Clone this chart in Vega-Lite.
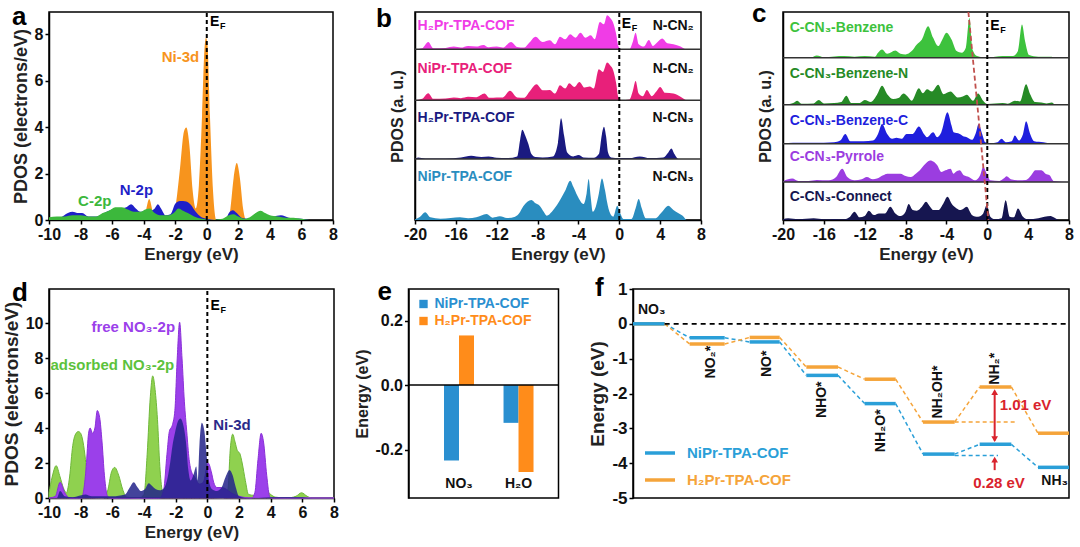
{
"$schema": "https://vega.github.io/schema/vega-lite/v6.json",
"background": "white",
"padding": {"left": 1, "top": 0, "right": 5, "bottom": 0},
"config": {
  "font": "Liberation Sans",
  "view": {"stroke": "#000", "strokeWidth": 1.5},
  "axis": {"labelFont": "Liberation Sans", "labelFontSize": 16, "labelFontWeight": "bold", "labelColor": "#111", "titleFont": "Liberation Sans", "titleFontSize": 17, "titleFontWeight": "bold", "titleColor": "#222", "domainColor": "#000", "domainWidth": 1.5, "tickColor": "#000", "tickWidth": 1.5, "tickSize": 4, "grid": false, "labelPadding": 2, "titlePadding": 4, "labelFlush": false, "labelOverlap": false},
  "title": {"font": "Liberation Sans", "fontSize": 26, "fontWeight": "bold", "anchor": "start", "frame": "group", "baseline": "alphabetic", "color": "#000"},
  "text": {"font": "Liberation Sans", "fontWeight": "bold", "fontSize": 14}
},
"datasets": {
  "aNi": [{"e":-10,"v":0},{"e":-4.2,"v":0},{"e":-3.9,"v":0.3},{"e":-3.65,"v":0.9},{"e":-3.4,"v":0.3},{"e":-3.1,"v":0},{"e":-2.2,"v":0},{"e":-2.0,"v":0.5},{"e":-1.7,"v":2.2},{"e":-1.45,"v":3.8},{"e":-1.3,"v":3.98},{"e":-1.1,"v":3.2},{"e":-0.9,"v":1.3},{"e":-0.7,"v":0.5},{"e":-0.5,"v":1.5},{"e":-0.3,"v":4.5},{"e":-0.15,"v":7.3},{"e":-0.05,"v":7.84},{"e":0.05,"v":7.5},{"e":0.2,"v":4.5},{"e":0.4,"v":1.2},{"e":0.6,"v":0},{"e":1.3,"v":0},{"e":1.5,"v":0.5},{"e":1.7,"v":1.8},{"e":1.9,"v":2.45},{"e":2.1,"v":1.8},{"e":2.3,"v":0.5},{"e":2.5,"v":0},{"e":8,"v":0}],
  "aN": [{"e":-10,"v":0.05},{"e":-9.3,"v":0.1},{"e":-8.8,"v":0.3},{"e":-8.5,"v":0.35},{"e":-8.2,"v":0.3},{"e":-7.9,"v":0.3},{"e":-7.5,"v":0.15},{"e":-7,"v":0.15},{"e":-6.5,"v":0.3},{"e":-6,"v":0.45},{"e":-5.5,"v":0.5},{"e":-5.1,"v":0.55},{"e":-4.8,"v":0.68},{"e":-4.5,"v":0.5},{"e":-4.2,"v":0.35},{"e":-3.9,"v":0.4},{"e":-3.6,"v":0.4},{"e":-3.3,"v":0.5},{"e":-3.1,"v":0.68},{"e":-2.9,"v":0.5},{"e":-2.6,"v":0.2},{"e":-2.3,"v":0.25},{"e":-2.0,"v":0.7},{"e":-1.7,"v":0.82},{"e":-1.3,"v":0.8},{"e":-1.0,"v":0.65},{"e":-0.7,"v":0.35},{"e":-0.4,"v":0.15},{"e":0,"v":0.05},{"e":0.5,"v":0},{"e":1.2,"v":0.05},{"e":1.4,"v":0.3},{"e":1.65,"v":0.42},{"e":1.9,"v":0.3},{"e":2.2,"v":0.1},{"e":2.6,"v":0.05},{"e":3.0,"v":0.15},{"e":3.4,"v":0.35},{"e":3.8,"v":0.2},{"e":4.2,"v":0.15},{"e":4.7,"v":0.2},{"e":5.2,"v":0.1},{"e":6,"v":0.05},{"e":6.5,"v":0},{"e":8,"v":0}],
  "aC": [{"e":-10,"v":0.12},{"e":-9.5,"v":0.15},{"e":-9,"v":0.15},{"e":-8.5,"v":0.2},{"e":-8,"v":0.2},{"e":-7.5,"v":0.15},{"e":-7,"v":0.15},{"e":-6.6,"v":0.3},{"e":-6.2,"v":0.4},{"e":-5.8,"v":0.55},{"e":-5.4,"v":0.55},{"e":-5.0,"v":0.45},{"e":-4.6,"v":0.35},{"e":-4.2,"v":0.35},{"e":-3.9,"v":0.45},{"e":-3.6,"v":0.5},{"e":-3.3,"v":0.3},{"e":-2.9,"v":0.2},{"e":-2.5,"v":0.2},{"e":-2.1,"v":0.3},{"e":-1.8,"v":0.5},{"e":-1.5,"v":0.4},{"e":-1.2,"v":0.3},{"e":-0.8,"v":0.15},{"e":-0.3,"v":0.05},{"e":0.3,"v":0},{"e":1.0,"v":0.05},{"e":1.4,"v":0.2},{"e":1.7,"v":0.25},{"e":2.0,"v":0.15},{"e":2.4,"v":0.05},{"e":2.8,"v":0.15},{"e":3.1,"v":0.3},{"e":3.4,"v":0.4},{"e":3.7,"v":0.3},{"e":4.0,"v":0.2},{"e":4.5,"v":0.15},{"e":5.0,"v":0.1},{"e":5.5,"v":0.1},{"e":6.0,"v":0.05},{"e":6.5,"v":0},{"e":8,"v":0}],
  "bS": [
{"k":"s1","b":5.13,"e":-20,"v":5.13},{"k":"s1","b":5.13,"e":-19.3,"v":5.16},{"k":"s1","b":5.13,"e":-18.7,"v":5.35},{"k":"s1","b":5.13,"e":-18.2,"v":5.16},{"k":"s1","b":5.13,"e":-17,"v":5.17},{"k":"s1","b":5.13,"e":-16.2,"v":5.21},{"k":"s1","b":5.13,"e":-15.5,"v":5.18},{"k":"s1","b":5.13,"e":-14.8,"v":5.23},{"k":"s1","b":5.13,"e":-14,"v":5.21},{"k":"s1","b":5.13,"e":-13.3,"v":5.26},{"k":"s1","b":5.13,"e":-12.8,"v":5.19},{"k":"s1","b":5.13,"e":-12,"v":5.21},{"k":"s1","b":5.13,"e":-11.4,"v":5.18},{"k":"s1","b":5.13,"e":-10.6,"v":5.35},{"k":"s1","b":5.13,"e":-10,"v":5.2},{"k":"s1","b":5.13,"e":-9.3,"v":5.18},{"k":"s1","b":5.13,"e":-8.8,"v":5.33},{"k":"s1","b":5.13,"e":-8.2,"v":5.51},{"k":"s1","b":5.13,"e":-7.5,"v":5.35},{"k":"s1","b":5.13,"e":-6.8,"v":5.4},{"k":"s1","b":5.13,"e":-6.3,"v":5.28},{"k":"s1","b":5.13,"e":-5.8,"v":5.51},{"k":"s1","b":5.13,"e":-5.3,"v":5.43},{"k":"s1","b":5.13,"e":-4.8,"v":5.58},{"k":"s1","b":5.13,"e":-4.3,"v":5.48},{"k":"s1","b":5.13,"e":-3.8,"v":5.63},{"k":"s1","b":5.13,"e":-3.3,"v":5.48},{"k":"s1","b":5.13,"e":-2.8,"v":5.55},{"k":"s1","b":5.13,"e":-2.4,"v":5.43},{"k":"s1","b":5.13,"e":-1.9,"v":5.95},{"k":"s1","b":5.13,"e":-1.5,"v":5.88},{"k":"s1","b":5.13,"e":-1.2,"v":6.15},{"k":"s1","b":5.13,"e":-0.9,"v":6.08},{"k":"s1","b":5.13,"e":-0.6,"v":5.93},{"k":"s1","b":5.13,"e":-0.3,"v":5.58},{"k":"s1","b":5.13,"e":-0.1,"v":5.23},{"k":"s1","b":5.13,"e":0.2,"v":5.13},{"k":"s1","b":5.13,"e":1.0,"v":5.13},{"k":"s1","b":5.13,"e":1.3,"v":5.33},{"k":"s1","b":5.13,"e":1.6,"v":5.63},{"k":"s1","b":5.13,"e":1.9,"v":5.28},{"k":"s1","b":5.13,"e":2.4,"v":5.21},{"k":"s1","b":5.13,"e":2.9,"v":5.41},{"k":"s1","b":5.13,"e":3.3,"v":5.23},{"k":"s1","b":5.13,"e":3.7,"v":5.33},{"k":"s1","b":5.13,"e":4.2,"v":5.45},{"k":"s1","b":5.13,"e":4.7,"v":5.31},{"k":"s1","b":5.13,"e":5.3,"v":5.28},{"k":"s1","b":5.13,"e":6.0,"v":5.21},{"k":"s1","b":5.13,"e":6.5,"v":5.13},{"k":"s1","b":5.13,"e":8,"v":5.13},
{"k":"s2","b":3.6,"e":-20,"v":3.6},{"k":"s2","b":3.6,"e":-19.3,"v":3.64},{"k":"s2","b":3.6,"e":-18.7,"v":3.81},{"k":"s2","b":3.6,"e":-18.2,"v":3.64},{"k":"s2","b":3.6,"e":-17,"v":3.65},{"k":"s2","b":3.6,"e":-16.2,"v":3.68},{"k":"s2","b":3.6,"e":-15.5,"v":3.66},{"k":"s2","b":3.6,"e":-14.8,"v":3.7},{"k":"s2","b":3.6,"e":-14,"v":3.69},{"k":"s2","b":3.6,"e":-13.2,"v":3.8},{"k":"s2","b":3.6,"e":-12.7,"v":3.67},{"k":"s2","b":3.6,"e":-12,"v":3.68},{"k":"s2","b":3.6,"e":-11.4,"v":3.68},{"k":"s2","b":3.6,"e":-10.7,"v":3.88},{"k":"s2","b":3.6,"e":-10,"v":3.68},{"k":"s2","b":3.6,"e":-9.3,"v":3.67},{"k":"s2","b":3.6,"e":-8.8,"v":3.85},{"k":"s2","b":3.6,"e":-8.1,"v":4.08},{"k":"s2","b":3.6,"e":-7.5,"v":3.9},{"k":"s2","b":3.6,"e":-6.8,"v":3.91},{"k":"s2","b":3.6,"e":-6.3,"v":3.8},{"k":"s2","b":3.6,"e":-5.8,"v":4.05},{"k":"s2","b":3.6,"e":-5.3,"v":3.95},{"k":"s2","b":3.6,"e":-4.9,"v":4.11},{"k":"s2","b":3.6,"e":-4.4,"v":4.0},{"k":"s2","b":3.6,"e":-3.9,"v":4.15},{"k":"s2","b":3.6,"e":-3.4,"v":3.98},{"k":"s2","b":3.6,"e":-2.9,"v":4.01},{"k":"s2","b":3.6,"e":-2.5,"v":3.95},{"k":"s2","b":3.6,"e":-2.0,"v":4.53},{"k":"s2","b":3.6,"e":-1.6,"v":4.45},{"k":"s2","b":3.6,"e":-1.2,"v":4.73},{"k":"s2","b":3.6,"e":-0.9,"v":4.65},{"k":"s2","b":3.6,"e":-0.6,"v":4.5},{"k":"s2","b":3.6,"e":-0.3,"v":4.1},{"k":"s2","b":3.6,"e":-0.1,"v":3.7},{"k":"s2","b":3.6,"e":0.2,"v":3.6},{"k":"s2","b":3.6,"e":1.0,"v":3.62},{"k":"s2","b":3.6,"e":1.3,"v":3.85},{"k":"s2","b":3.6,"e":1.6,"v":4.18},{"k":"s2","b":3.6,"e":1.9,"v":3.8},{"k":"s2","b":3.6,"e":2.3,"v":3.72},{"k":"s2","b":3.6,"e":2.7,"v":3.91},{"k":"s2","b":3.6,"e":3.2,"v":3.72},{"k":"s2","b":3.6,"e":3.6,"v":3.85},{"k":"s2","b":3.6,"e":4.0,"v":4.0},{"k":"s2","b":3.6,"e":4.5,"v":3.82},{"k":"s2","b":3.6,"e":5.3,"v":3.8},{"k":"s2","b":3.6,"e":6.0,"v":3.7},{"k":"s2","b":3.6,"e":6.6,"v":3.6},{"k":"s2","b":3.6,"e":8,"v":3.6},
{"k":"s3","b":1.83,"e":-20,"v":1.83},{"k":"s3","b":1.83,"e":-19.7,"v":1.88},{"k":"s3","b":1.83,"e":-19,"v":1.85},{"k":"s3","b":1.83,"e":-17,"v":1.85},{"k":"s3","b":1.83,"e":-15.5,"v":1.88},{"k":"s3","b":1.83,"e":-14.5,"v":1.93},{"k":"s3","b":1.83,"e":-13.5,"v":1.89},{"k":"s3","b":1.83,"e":-12.8,"v":1.91},{"k":"s3","b":1.83,"e":-12,"v":1.87},{"k":"s3","b":1.83,"e":-11,"v":1.86},{"k":"s3","b":1.83,"e":-10,"v":1.91},{"k":"s3","b":1.83,"e":-9.7,"v":2.43},{"k":"s3","b":1.83,"e":-9.5,"v":2.71},{"k":"s3","b":1.83,"e":-9.2,"v":2.53},{"k":"s3","b":1.83,"e":-8.9,"v":2.28},{"k":"s3","b":1.83,"e":-8.6,"v":1.98},{"k":"s3","b":1.83,"e":-8.2,"v":1.89},{"k":"s3","b":1.83,"e":-7.5,"v":1.88},{"k":"s3","b":1.83,"e":-6.5,"v":1.91},{"k":"s3","b":1.83,"e":-6.0,"v":2.33},{"k":"s3","b":1.83,"e":-5.7,"v":3.06},{"k":"s3","b":1.83,"e":-5.4,"v":2.53},{"k":"s3","b":1.83,"e":-5.1,"v":2.03},{"k":"s3","b":1.83,"e":-4.5,"v":1.91},{"k":"s3","b":1.83,"e":-4.0,"v":1.95},{"k":"s3","b":1.83,"e":-3.5,"v":1.88},{"k":"s3","b":1.83,"e":-2.5,"v":1.87},{"k":"s3","b":1.83,"e":-2.0,"v":1.98},{"k":"s3","b":1.83,"e":-1.7,"v":2.58},{"k":"s3","b":1.83,"e":-1.5,"v":2.8},{"k":"s3","b":1.83,"e":-1.3,"v":2.53},{"k":"s3","b":1.83,"e":-1.1,"v":2.03},{"k":"s3","b":1.83,"e":-0.8,"v":1.88},{"k":"s3","b":1.83,"e":0,"v":1.86},{"k":"s3","b":1.83,"e":1,"v":1.86},{"k":"s3","b":1.83,"e":2,"v":1.91},{"k":"s3","b":1.83,"e":3,"v":1.86},{"k":"s3","b":1.83,"e":4.3,"v":1.88},{"k":"s3","b":1.83,"e":4.8,"v":2.03},{"k":"s3","b":1.83,"e":5.1,"v":2.15},{"k":"s3","b":1.83,"e":5.4,"v":1.98},{"k":"s3","b":1.83,"e":5.8,"v":1.83},{"k":"s3","b":1.83,"e":8,"v":1.83},
{"k":"s4","b":0,"e":-20,"v":0.02},{"k":"s4","b":0,"e":-19.5,"v":0.1},{"k":"s4","b":0,"e":-19,"v":0.23},{"k":"s4","b":0,"e":-18.5,"v":0.08},{"k":"s4","b":0,"e":-17.5,"v":0.04},{"k":"s4","b":0,"e":-16.5,"v":0.06},{"k":"s4","b":0,"e":-15.6,"v":0.08},{"k":"s4","b":0,"e":-14.8,"v":0.05},{"k":"s4","b":0,"e":-14,"v":0.08},{"k":"s4","b":0,"e":-13,"v":0.18},{"k":"s4","b":0,"e":-12.4,"v":0.07},{"k":"s4","b":0,"e":-11.7,"v":0.11},{"k":"s4","b":0,"e":-11,"v":0.06},{"k":"s4","b":0,"e":-10.2,"v":0.1},{"k":"s4","b":0,"e":-9.8,"v":0.2},{"k":"s4","b":0,"e":-9.4,"v":0.41},{"k":"s4","b":0,"e":-8.6,"v":0.6},{"k":"s4","b":0,"e":-8.2,"v":0.5},{"k":"s4","b":0,"e":-7.8,"v":0.43},{"k":"s4","b":0,"e":-7.4,"v":0.25},{"k":"s4","b":0,"e":-7.1,"v":0.13},{"k":"s4","b":0,"e":-6.6,"v":0.25},{"k":"s4","b":0,"e":-6.1,"v":0.45},{"k":"s4","b":0,"e":-5.3,"v":0.88},{"k":"s4","b":0,"e":-4.8,"v":1.18},{"k":"s4","b":0,"e":-4.5,"v":1.0},{"k":"s4","b":0,"e":-4.1,"v":0.73},{"k":"s4","b":0,"e":-3.5,"v":0.48},{"k":"s4","b":0,"e":-3.2,"v":0.8},{"k":"s4","b":0,"e":-3.0,"v":1.23},{"k":"s4","b":0,"e":-2.8,"v":0.7},{"k":"s4","b":0,"e":-2.6,"v":0.25},{"k":"s4","b":0,"e":-2.3,"v":0.4},{"k":"s4","b":0,"e":-2.0,"v":0.8},{"k":"s4","b":0,"e":-1.7,"v":1.25},{"k":"s4","b":0,"e":-1.4,"v":0.9},{"k":"s4","b":0,"e":-1.2,"v":0.55},{"k":"s4","b":0,"e":-0.9,"v":0.2},{"k":"s4","b":0,"e":-0.6,"v":0.1},{"k":"s4","b":0,"e":-0.2,"v":0.43},{"k":"s4","b":0,"e":0.1,"v":0.2},{"k":"s4","b":0,"e":0.4,"v":0.03},{"k":"s4","b":0,"e":1.2,"v":0.03},{"k":"s4","b":0,"e":1.6,"v":0.35},{"k":"s4","b":0,"e":1.9,"v":0.63},{"k":"s4","b":0,"e":2.2,"v":0.35},{"k":"s4","b":0,"e":2.6,"v":0.05},{"k":"s4","b":0,"e":3.5,"v":0.05},{"k":"s4","b":0,"e":4.2,"v":0.25},{"k":"s4","b":0,"e":4.8,"v":0.43},{"k":"s4","b":0,"e":5.3,"v":0.3},{"k":"s4","b":0,"e":5.8,"v":0.2},{"k":"s4","b":0,"e":6.3,"v":0.1},{"k":"s4","b":0,"e":6.6,"v":0},{"k":"s4","b":0,"e":8,"v":0}],
  "cS": [
{"k":"c1","b":4.9,"e":-20,"v":4.9},{"k":"c1","b":4.9,"e":-19,"v":4.92},{"k":"c1","b":4.9,"e":-17.2,"v":4.92},{"k":"c1","b":4.9,"e":-16.7,"v":4.97},{"k":"c1","b":4.9,"e":-16,"v":4.92},{"k":"c1","b":4.9,"e":-15,"v":4.94},{"k":"c1","b":4.9,"e":-14,"v":4.95},{"k":"c1","b":4.9,"e":-13,"v":4.93},{"k":"c1","b":4.9,"e":-12,"v":4.95},{"k":"c1","b":4.9,"e":-11,"v":4.93},{"k":"c1","b":4.9,"e":-10.7,"v":5.05},{"k":"c1","b":4.9,"e":-10.3,"v":5.15},{"k":"c1","b":4.9,"e":-9.8,"v":5.02},{"k":"c1","b":4.9,"e":-9.0,"v":5.12},{"k":"c1","b":4.9,"e":-8.5,"v":5.02},{"k":"c1","b":4.9,"e":-8.0,"v":5.0},{"k":"c1","b":4.9,"e":-7.4,"v":5.1},{"k":"c1","b":4.9,"e":-6.9,"v":5.3},{"k":"c1","b":4.9,"e":-6.4,"v":5.45},{"k":"c1","b":4.9,"e":-5.8,"v":5.85},{"k":"c1","b":4.9,"e":-5.3,"v":5.5},{"k":"c1","b":4.9,"e":-4.8,"v":5.25},{"k":"c1","b":4.9,"e":-4.4,"v":5.45},{"k":"c1","b":4.9,"e":-4.0,"v":5.65},{"k":"c1","b":4.9,"e":-3.5,"v":5.45},{"k":"c1","b":4.9,"e":-3.0,"v":5.1},{"k":"c1","b":4.9,"e":-2.5,"v":5.05},{"k":"c1","b":4.9,"e":-2.1,"v":5.2},{"k":"c1","b":4.9,"e":-1.75,"v":6.1},{"k":"c1","b":4.9,"e":-1.45,"v":5.15},{"k":"c1","b":4.9,"e":-1.0,"v":4.95},{"k":"c1","b":4.9,"e":0,"v":4.9},{"k":"c1","b":4.9,"e":1.5,"v":4.95},{"k":"c1","b":4.9,"e":2.5,"v":4.95},{"k":"c1","b":4.9,"e":3.0,"v":5.1},{"k":"c1","b":4.9,"e":3.4,"v":5.9},{"k":"c1","b":4.9,"e":3.7,"v":5.4},{"k":"c1","b":4.9,"e":4.1,"v":4.98},{"k":"c1","b":4.9,"e":5,"v":4.93},{"k":"c1","b":4.9,"e":6.3,"v":4.93},{"k":"c1","b":4.9,"e":6.6,"v":4.9},{"k":"c1","b":4.9,"e":8,"v":4.9},
{"k":"c2","b":3.48,"e":-20,"v":3.48},{"k":"c2","b":3.48,"e":-19,"v":3.53},{"k":"c2","b":3.48,"e":-18.6,"v":3.6},{"k":"c2","b":3.48,"e":-18.2,"v":3.51},{"k":"c2","b":3.48,"e":-17,"v":3.52},{"k":"c2","b":3.48,"e":-16.5,"v":3.62},{"k":"c2","b":3.48,"e":-16,"v":3.52},{"k":"c2","b":3.48,"e":-15,"v":3.53},{"k":"c2","b":3.48,"e":-14.3,"v":3.56},{"k":"c2","b":3.48,"e":-13.8,"v":3.75},{"k":"c2","b":3.48,"e":-13.3,"v":3.53},{"k":"c2","b":3.48,"e":-12.5,"v":3.53},{"k":"c2","b":3.48,"e":-12,"v":3.62},{"k":"c2","b":3.48,"e":-11.4,"v":3.56},{"k":"c2","b":3.48,"e":-10.8,"v":3.78},{"k":"c2","b":3.48,"e":-10.3,"v":4.05},{"k":"c2","b":3.48,"e":-9.8,"v":3.8},{"k":"c2","b":3.48,"e":-9.2,"v":3.65},{"k":"c2","b":3.48,"e":-8.7,"v":3.68},{"k":"c2","b":3.48,"e":-8.2,"v":3.82},{"k":"c2","b":3.48,"e":-7.8,"v":3.73},{"k":"c2","b":3.48,"e":-7.4,"v":3.6},{"k":"c2","b":3.48,"e":-6.7,"v":3.98},{"k":"c2","b":3.48,"e":-6.3,"v":3.83},{"k":"c2","b":3.48,"e":-5.9,"v":3.95},{"k":"c2","b":3.48,"e":-5.4,"v":3.88},{"k":"c2","b":3.48,"e":-4.8,"v":4.08},{"k":"c2","b":3.48,"e":-4.3,"v":3.8},{"k":"c2","b":3.48,"e":-3.6,"v":3.88},{"k":"c2","b":3.48,"e":-2.9,"v":3.7},{"k":"c2","b":3.48,"e":-2.4,"v":3.73},{"k":"c2","b":3.48,"e":-2.0,"v":3.78},{"k":"c2","b":3.48,"e":-1.4,"v":3.6},{"k":"c2","b":3.48,"e":-0.9,"v":3.82},{"k":"c2","b":3.48,"e":-0.4,"v":3.6},{"k":"c2","b":3.48,"e":0,"v":3.5},{"k":"c2","b":3.48,"e":1.5,"v":3.53},{"k":"c2","b":3.48,"e":2.0,"v":3.51},{"k":"c2","b":3.48,"e":2.7,"v":3.6},{"k":"c2","b":3.48,"e":3.2,"v":3.58},{"k":"c2","b":3.48,"e":3.8,"v":4.1},{"k":"c2","b":3.48,"e":4.2,"v":3.8},{"k":"c2","b":3.48,"e":4.7,"v":3.56},{"k":"c2","b":3.48,"e":5.3,"v":3.55},{"k":"c2","b":3.48,"e":5.8,"v":3.52},{"k":"c2","b":3.48,"e":6.3,"v":3.55},{"k":"c2","b":3.48,"e":6.7,"v":3.48},{"k":"c2","b":3.48,"e":8,"v":3.48},
{"k":"c3","b":2.3,"e":-20,"v":2.3},{"k":"c3","b":2.3,"e":-19,"v":2.33},{"k":"c3","b":2.3,"e":-17,"v":2.33},{"k":"c3","b":2.3,"e":-15,"v":2.35},{"k":"c3","b":2.3,"e":-14.4,"v":2.4},{"k":"c3","b":2.3,"e":-13.9,"v":2.6},{"k":"c3","b":2.3,"e":-13.4,"v":2.38},{"k":"c3","b":2.3,"e":-12.1,"v":2.38},{"k":"c3","b":2.3,"e":-11.2,"v":2.4},{"k":"c3","b":2.3,"e":-10.7,"v":2.6},{"k":"c3","b":2.3,"e":-10.3,"v":2.9},{"k":"c3","b":2.3,"e":-9.8,"v":2.6},{"k":"c3","b":2.3,"e":-9.3,"v":2.45},{"k":"c3","b":2.3,"e":-8.9,"v":2.48},{"k":"c3","b":2.3,"e":-8.4,"v":2.45},{"k":"c3","b":2.3,"e":-7.9,"v":2.6},{"k":"c3","b":2.3,"e":-7.3,"v":2.6},{"k":"c3","b":2.3,"e":-6.7,"v":2.82},{"k":"c3","b":2.3,"e":-6.2,"v":2.6},{"k":"c3","b":2.3,"e":-5.9,"v":2.5},{"k":"c3","b":2.3,"e":-5.3,"v":2.65},{"k":"c3","b":2.3,"e":-4.9,"v":2.5},{"k":"c3","b":2.3,"e":-4.5,"v":2.65},{"k":"c3","b":2.3,"e":-3.9,"v":3.25},{"k":"c3","b":2.3,"e":-3.5,"v":2.85},{"k":"c3","b":2.3,"e":-3.3,"v":2.65},{"k":"c3","b":2.3,"e":-2.7,"v":2.6},{"k":"c3","b":2.3,"e":-2.3,"v":2.52},{"k":"c3","b":2.3,"e":-2.0,"v":2.5},{"k":"c3","b":2.3,"e":-1.5,"v":2.42},{"k":"c3","b":2.3,"e":-1.1,"v":2.65},{"k":"c3","b":2.3,"e":-0.85,"v":2.9},{"k":"c3","b":2.3,"e":-0.5,"v":2.6},{"k":"c3","b":2.3,"e":-0.2,"v":2.35},{"k":"c3","b":2.3,"e":0.3,"v":2.32},{"k":"c3","b":2.3,"e":1.0,"v":2.35},{"k":"c3","b":2.3,"e":1.4,"v":2.45},{"k":"c3","b":2.3,"e":1.8,"v":2.35},{"k":"c3","b":2.3,"e":2.4,"v":2.38},{"k":"c3","b":2.3,"e":2.7,"v":2.55},{"k":"c3","b":2.3,"e":3.1,"v":2.4},{"k":"c3","b":2.3,"e":3.5,"v":2.6},{"k":"c3","b":2.3,"e":3.8,"v":2.98},{"k":"c3","b":2.3,"e":4.2,"v":2.6},{"k":"c3","b":2.3,"e":4.6,"v":2.38},{"k":"c3","b":2.3,"e":5.5,"v":2.35},{"k":"c3","b":2.3,"e":6.5,"v":2.3},{"k":"c3","b":2.3,"e":8,"v":2.3},
{"k":"c4","b":1.15,"e":-20,"v":1.17},{"k":"c4","b":1.15,"e":-19.5,"v":1.23},{"k":"c4","b":1.15,"e":-19.1,"v":1.25},{"k":"c4","b":1.15,"e":-18.5,"v":1.18},{"k":"c4","b":1.15,"e":-17.5,"v":1.18},{"k":"c4","b":1.15,"e":-16.7,"v":1.21},{"k":"c4","b":1.15,"e":-15.5,"v":1.2},{"k":"c4","b":1.15,"e":-14.8,"v":1.3},{"k":"c4","b":1.15,"e":-14.2,"v":1.55},{"k":"c4","b":1.15,"e":-13.7,"v":1.3},{"k":"c4","b":1.15,"e":-13,"v":1.2},{"k":"c4","b":1.15,"e":-12.3,"v":1.23},{"k":"c4","b":1.15,"e":-11.8,"v":1.3},{"k":"c4","b":1.15,"e":-11.2,"v":1.23},{"k":"c4","b":1.15,"e":-10.8,"v":1.25},{"k":"c4","b":1.15,"e":-10.2,"v":1.35},{"k":"c4","b":1.15,"e":-9.8,"v":1.4},{"k":"c4","b":1.15,"e":-9.2,"v":1.4},{"k":"c4","b":1.15,"e":-8.5,"v":1.4},{"k":"c4","b":1.15,"e":-8.0,"v":1.33},{"k":"c4","b":1.15,"e":-7.5,"v":1.3},{"k":"c4","b":1.15,"e":-7.0,"v":1.4},{"k":"c4","b":1.15,"e":-6.6,"v":1.5},{"k":"c4","b":1.15,"e":-6.2,"v":1.65},{"k":"c4","b":1.15,"e":-5.6,"v":1.8},{"k":"c4","b":1.15,"e":-5.2,"v":1.75},{"k":"c4","b":1.15,"e":-4.9,"v":1.65},{"k":"c4","b":1.15,"e":-4.5,"v":1.45},{"k":"c4","b":1.15,"e":-4.1,"v":1.5},{"k":"c4","b":1.15,"e":-3.6,"v":1.55},{"k":"c4","b":1.15,"e":-3.3,"v":1.4},{"k":"c4","b":1.15,"e":-3.1,"v":1.45},{"k":"c4","b":1.15,"e":-2.7,"v":1.5},{"k":"c4","b":1.15,"e":-2.3,"v":1.35},{"k":"c4","b":1.15,"e":-1.8,"v":1.3},{"k":"c4","b":1.15,"e":-1.2,"v":1.2},{"k":"c4","b":1.15,"e":-0.7,"v":1.35},{"k":"c4","b":1.15,"e":-0.4,"v":1.6},{"k":"c4","b":1.15,"e":-0.05,"v":1.4},{"k":"c4","b":1.15,"e":0.3,"v":1.2},{"k":"c4","b":1.15,"e":1.2,"v":1.18},{"k":"c4","b":1.15,"e":1.6,"v":1.25},{"k":"c4","b":1.15,"e":1.9,"v":1.32},{"k":"c4","b":1.15,"e":2.3,"v":1.23},{"k":"c4","b":1.15,"e":3.0,"v":1.2},{"k":"c4","b":1.15,"e":3.8,"v":1.21},{"k":"c4","b":1.15,"e":4.3,"v":1.35},{"k":"c4","b":1.15,"e":4.7,"v":1.5},{"k":"c4","b":1.15,"e":5.0,"v":1.5},{"k":"c4","b":1.15,"e":5.3,"v":1.5},{"k":"c4","b":1.15,"e":5.7,"v":1.4},{"k":"c4","b":1.15,"e":6.1,"v":1.35},{"k":"c4","b":1.15,"e":6.5,"v":1.18},{"k":"c4","b":1.15,"e":8,"v":1.15},
{"k":"c5","b":0,"e":-20,"v":0.02},{"k":"c5","b":0,"e":-19.5,"v":0.05},{"k":"c5","b":0,"e":-18.5,"v":0.02},{"k":"c5","b":0,"e":-17,"v":0.05},{"k":"c5","b":0,"e":-16,"v":0.02},{"k":"c5","b":0,"e":-15,"v":0.03},{"k":"c5","b":0,"e":-14,"v":0.02},{"k":"c5","b":0,"e":-13.5,"v":0.08},{"k":"c5","b":0,"e":-13.0,"v":0.25},{"k":"c5","b":0,"e":-12.5,"v":0.08},{"k":"c5","b":0,"e":-12,"v":0.12},{"k":"c5","b":0,"e":-11.6,"v":0.28},{"k":"c5","b":0,"e":-11.1,"v":0.15},{"k":"c5","b":0,"e":-10.6,"v":0.2},{"k":"c5","b":0,"e":-10.0,"v":0.2},{"k":"c5","b":0,"e":-9.5,"v":0.4},{"k":"c5","b":0,"e":-9.0,"v":0.2},{"k":"c5","b":0,"e":-8.5,"v":0.12},{"k":"c5","b":0,"e":-8.0,"v":0.25},{"k":"c5","b":0,"e":-7.7,"v":0.48},{"k":"c5","b":0,"e":-7.3,"v":0.3},{"k":"c5","b":0,"e":-6.9,"v":0.28},{"k":"c5","b":0,"e":-6.4,"v":0.4},{"k":"c5","b":0,"e":-6.0,"v":0.55},{"k":"c5","b":0,"e":-5.6,"v":0.4},{"k":"c5","b":0,"e":-5.3,"v":0.3},{"k":"c5","b":0,"e":-4.8,"v":0.3},{"k":"c5","b":0,"e":-4.3,"v":0.5},{"k":"c5","b":0,"e":-3.9,"v":0.7},{"k":"c5","b":0,"e":-3.5,"v":0.5},{"k":"c5","b":0,"e":-3.3,"v":0.42},{"k":"c5","b":0,"e":-3.0,"v":0.35},{"k":"c5","b":0,"e":-2.6,"v":0.3},{"k":"c5","b":0,"e":-2.0,"v":0.4},{"k":"c5","b":0,"e":-1.7,"v":0.25},{"k":"c5","b":0,"e":-1.5,"v":0.15},{"k":"c5","b":0,"e":-1.1,"v":0.1},{"k":"c5","b":0,"e":-0.9,"v":0.1},{"k":"c5","b":0,"e":-0.4,"v":0.2},{"k":"c5","b":0,"e":-0.05,"v":0.45},{"k":"c5","b":0,"e":0.3,"v":0.1},{"k":"c5","b":0,"e":0.8,"v":0.02},{"k":"c5","b":0,"e":1.4,"v":0.05},{"k":"c5","b":0,"e":1.8,"v":0.6},{"k":"c5","b":0,"e":2.2,"v":0.1},{"k":"c5","b":0,"e":2.6,"v":0.08},{"k":"c5","b":0,"e":3.0,"v":0.35},{"k":"c5","b":0,"e":3.5,"v":0.1},{"k":"c5","b":0,"e":4.0,"v":0.02},{"k":"c5","b":0,"e":5.0,"v":0.05},{"k":"c5","b":0,"e":5.6,"v":0.1},{"k":"c5","b":0,"e":6.2,"v":0.12},{"k":"c5","b":0,"e":6.5,"v":0.08},{"k":"c5","b":0,"e":7,"v":0},{"k":"c5","b":0,"e":8,"v":0}],
  "dAds": [{"e":-10,"v":0.3},{"e":-9.8,"v":1.2},{"e":-9.55,"v":1.85},{"e":-9.3,"v":1.2},{"e":-9.1,"v":0.6},{"e":-8.9,"v":0.3},{"e":-8.7,"v":1.2},{"e":-8.5,"v":3.0},{"e":-8.35,"v":3.6},{"e":-8.15,"v":3.8},{"e":-8.0,"v":3.7},{"e":-7.85,"v":3.2},{"e":-7.7,"v":2.2},{"e":-7.55,"v":0.6},{"e":-7.4,"v":0.05},{"e":-6.6,"v":0},{"e":-6.3,"v":0.4},{"e":-6.05,"v":1.5},{"e":-5.85,"v":1.75},{"e":-5.6,"v":1.3},{"e":-5.35,"v":0.5},{"e":-5.1,"v":0.05},{"e":-4.3,"v":0},{"e":-4.0,"v":0.2},{"e":-3.8,"v":2.5},{"e":-3.6,"v":5.8},{"e":-3.45,"v":6.98},{"e":-3.3,"v":6.2},{"e":-3.15,"v":4.5},{"e":-3.0,"v":1.8},{"e":-2.85,"v":0.4},{"e":-2.7,"v":0.05},{"e":-2.0,"v":0.1},{"e":-1.5,"v":0.2},{"e":-1,"v":0.1},{"e":0,"v":0.05},{"e":1.0,"v":0},{"e":1.3,"v":0.5},{"e":1.45,"v":2.8},{"e":1.6,"v":3.65},{"e":1.75,"v":3.2},{"e":1.9,"v":2.7},{"e":2.05,"v":2.55},{"e":2.2,"v":2.0},{"e":2.4,"v":1.0},{"e":2.6,"v":0.2},{"e":3.0,"v":0.15},{"e":3.5,"v":0.2},{"e":3.75,"v":0.4},{"e":4.0,"v":0.2},{"e":4.3,"v":0.05},{"e":5.0,"v":0},{"e":5.6,"v":0.1},{"e":5.95,"v":0.3},{"e":6.3,"v":0.1},{"e":6.6,"v":0},{"e":8,"v":0}],
  "dFree": [{"e":-10,"v":0},{"e":-9.6,"v":0.1},{"e":-9.3,"v":0.9},{"e":-9.0,"v":0.3},{"e":-8.7,"v":0},{"e":-7.95,"v":0},{"e":-7.8,"v":0.5},{"e":-7.65,"v":1.8},{"e":-7.5,"v":3.7},{"e":-7.4,"v":4.0},{"e":-7.25,"v":3.7},{"e":-7.1,"v":4.0},{"e":-6.95,"v":5.0},{"e":-6.8,"v":4.6},{"e":-6.65,"v":3.2},{"e":-6.5,"v":1.3},{"e":-6.3,"v":0.1},{"e":-6.1,"v":0},{"e":-3,"v":0},{"e":-2.75,"v":0.5},{"e":-2.55,"v":2.5},{"e":-2.4,"v":3.8},{"e":-2.2,"v":4.2},{"e":-2.05,"v":5.0},{"e":-1.9,"v":8.0},{"e":-1.75,"v":10.05},{"e":-1.6,"v":8.0},{"e":-1.45,"v":5.5},{"e":-1.3,"v":3.8},{"e":-1.15,"v":2.2},{"e":-1.0,"v":1.5},{"e":-0.8,"v":1.2},{"e":-0.5,"v":0.8},{"e":-0.25,"v":0.9},{"e":0.05,"v":2.0},{"e":0.25,"v":1.5},{"e":0.4,"v":0.9},{"e":0.6,"v":0.6},{"e":0.9,"v":0.6},{"e":1.2,"v":0.5},{"e":1.5,"v":0.3},{"e":2.0,"v":0.1},{"e":2.8,"v":0},{"e":3.0,"v":0.3},{"e":3.2,"v":2.2},{"e":3.4,"v":3.7},{"e":3.55,"v":3.2},{"e":3.75,"v":1.3},{"e":3.95,"v":0.05},{"e":4.2,"v":0},{"e":8,"v":0}],
  "dNi": [{"e":-10,"v":0},{"e":-9.5,"v":0},{"e":-9.3,"v":0.4},{"e":-9.0,"v":0.1},{"e":-8.5,"v":0.05},{"e":-7.7,"v":0.2},{"e":-7.3,"v":0.1},{"e":-6,"v":0.1},{"e":-5.2,"v":0.2},{"e":-4.9,"v":0.6},{"e":-4.65,"v":0.9},{"e":-4.4,"v":0.6},{"e":-4.2,"v":0.4},{"e":-3.95,"v":0.5},{"e":-3.7,"v":0.85},{"e":-3.5,"v":0.7},{"e":-3.25,"v":0.5},{"e":-3.0,"v":0.45},{"e":-2.75,"v":0.55},{"e":-2.5,"v":1.2},{"e":-2.35,"v":2.0},{"e":-2.2,"v":3.0},{"e":-2.05,"v":3.7},{"e":-1.85,"v":4.4},{"e":-1.7,"v":4.55},{"e":-1.5,"v":4.1},{"e":-1.35,"v":3.2},{"e":-1.2,"v":1.6},{"e":-1.05,"v":1.0},{"e":-0.85,"v":1.4},{"e":-0.7,"v":1.8},{"e":-0.6,"v":1.0},{"e":-0.5,"v":3.0},{"e":-0.35,"v":4.3},{"e":-0.2,"v":3.9},{"e":-0.05,"v":2.5},{"e":0.1,"v":1.0},{"e":0.3,"v":0.5},{"e":0.6,"v":0.4},{"e":0.9,"v":0.6},{"e":1.15,"v":1.2},{"e":1.4,"v":1.6},{"e":1.6,"v":1.3},{"e":1.8,"v":0.6},{"e":2.0,"v":0.1},{"e":2.5,"v":0},{"e":3,"v":0},{"e":4,"v":0.05},{"e":5,"v":0.05},{"e":6,"v":0.05},{"e":6.5,"v":0},{"e":8,"v":0}],
  "eBars": [{"g":"NO3","s":"NiPr-TPA-COF","v":-0.234},{"g":"NO3","s":"H₂Pr-TPA-COF","v":0.154},{"g":"H2O","s":"NiPr-TPA-COF","v":-0.117},{"g":"H2O","s":"H₂Pr-TPA-COF","v":-0.269}],
  "fLev": [
{"s":"H₂Pr-TPA-COF","x1":0,"x2":0.95,"v":0},{"s":"H₂Pr-TPA-COF","x1":1.7,"x2":2.75,"v":-0.58},{"s":"H₂Pr-TPA-COF","x1":3.5,"x2":4.4,"v":-0.39},{"s":"H₂Pr-TPA-COF","x1":5.2,"x2":6.15,"v":-1.24},{"s":"H₂Pr-TPA-COF","x1":6.95,"x2":7.88,"v":-1.59},{"s":"H₂Pr-TPA-COF","x1":8.7,"x2":9.65,"v":-2.82},{"s":"H₂Pr-TPA-COF","x1":10.4,"x2":11.35,"v":-1.81},{"s":"H₂Pr-TPA-COF","x1":12.15,"x2":13.08,"v":-3.14},
{"s":"NiPr-TPA-COF","x1":0,"x2":0.95,"v":0},{"s":"NiPr-TPA-COF","x1":1.7,"x2":2.75,"v":-0.4},{"s":"NiPr-TPA-COF","x1":3.5,"x2":4.4,"v":-0.52},{"s":"NiPr-TPA-COF","x1":5.2,"x2":6.15,"v":-1.48},{"s":"NiPr-TPA-COF","x1":6.95,"x2":7.88,"v":-2.29},{"s":"NiPr-TPA-COF","x1":8.7,"x2":9.65,"v":-3.74},{"s":"NiPr-TPA-COF","x1":10.4,"x2":11.35,"v":-3.46},{"s":"NiPr-TPA-COF","x1":12.15,"x2":13.08,"v":-4.12}],
  "fConn": [
{"s":"NiPr-TPA-COF","x1":0.95,"x2":1.7,"v":0,"v2":-0.4},{"s":"NiPr-TPA-COF","x1":2.75,"x2":3.5,"v":-0.4,"v2":-0.52},{"s":"NiPr-TPA-COF","x1":4.4,"x2":5.2,"v":-0.52,"v2":-1.48},{"s":"NiPr-TPA-COF","x1":6.15,"x2":6.95,"v":-1.48,"v2":-2.29},{"s":"NiPr-TPA-COF","x1":7.88,"x2":8.7,"v":-2.29,"v2":-3.74},{"s":"NiPr-TPA-COF","x1":9.65,"x2":10.4,"v":-3.74,"v2":-3.46},{"s":"NiPr-TPA-COF","x1":11.35,"x2":12.15,"v":-3.46,"v2":-4.12},{"s":"NiPr-TPA-COF","x1":9.65,"x2":10.95,"v":-3.78,"v2":-3.78},
{"s":"H₂Pr-TPA-COF","x1":0.95,"x2":1.7,"v":0,"v2":-0.58},{"s":"H₂Pr-TPA-COF","x1":2.75,"x2":3.5,"v":-0.58,"v2":-0.39},{"s":"H₂Pr-TPA-COF","x1":4.4,"x2":5.2,"v":-0.39,"v2":-1.24},{"s":"H₂Pr-TPA-COF","x1":6.15,"x2":6.95,"v":-1.24,"v2":-1.59},{"s":"H₂Pr-TPA-COF","x1":7.88,"x2":8.7,"v":-1.59,"v2":-2.82},{"s":"H₂Pr-TPA-COF","x1":9.65,"x2":10.4,"v":-2.82,"v2":-1.81},{"s":"H₂Pr-TPA-COF","x1":11.35,"x2":12.15,"v":-1.81,"v2":-3.14},{"s":"H₂Pr-TPA-COF","x1":9.65,"x2":11.5,"v":-2.82,"v2":-2.82}]
},
"spacing": 11,
"resolve": {"scale": {"color": "independent"}, "legend": {"color": "independent"}},
"vconcat": [
{
"hconcat": [
{
  "width": 284, "height": 208,
  "title": {"text": "a", "dx": -37, "offset": -19},
  "encoding": {
    "x": {"field": "e", "type": "quantitative", "scale": {"domain": [-10, 8], "nice": false, "zero": false}, "axis": {"values": [-10,-8,-6,-4,-2,0,2,4,6,8], "title": "Energy (eV)", "labelExpr": "replace(datum.label, '−', '-')"}},
    "y": {"field": "v", "type": "quantitative", "scale": {"domain": [0, 8.95], "nice": false, "zero": false}, "axis": {"values": [0,2,4,6,8], "title": "PDOS (electrons/eV)", "titleFontSize": 18}}
  },
  "layer": [
    {"data": {"name": "aNi"}, "mark": {"type": "area", "color": "#f7941d", "interpolate": "monotone"}},
    {"data": {"name": "aN"}, "mark": {"type": "area", "color": "#1f1fc8", "interpolate": "monotone"}},
    {"data": {"name": "aC"}, "mark": {"type": "area", "color": "#3cb83c", "interpolate": "monotone"}},
    {"data": {"values": [{"e": 0, "v": 0, "v2": 8.95}]}, "mark": {"type": "rule", "color": "#000", "strokeWidth": 2, "strokeDash": [4, 3]}, "encoding": {"y2": {"field": "v2"}}},
    {"data": {"values": [{"e": -1.67, "v": 7.0, "t": "Ni-3d"}]}, "mark": {"type": "text", "color": "#f7941d", "fontSize": 15}, "encoding": {"text": {"field": "t"}}},
    {"data": {"values": [{"e": -4.46, "v": 1.27, "t": "N-2p"}]}, "mark": {"type": "text", "color": "#1f1fc8", "fontSize": 15}, "encoding": {"text": {"field": "t"}}},
    {"data": {"values": [{"e": -7.1, "v": 0.8, "t": "C-2p"}]}, "mark": {"type": "text", "color": "#3cb83c", "fontSize": 15}, "encoding": {"text": {"field": "t"}}},
    {"data": {"values": [{"e": 0.2, "v": 8.5}]}, "layer": [
      {"mark": {"type": "text", "text": "E", "align": "left", "baseline": "middle", "fontSize": 14, "color": "#000"}},
      {"mark": {"type": "text", "text": "F", "align": "left", "baseline": "middle", "fontSize": 9, "dx": 10, "dy": 4, "color": "#000"}}
    ]}
  ]
},
{
  "width": 286, "height": 208,
  "title": {"text": "b", "dx": -39, "offset": -21},
  "encoding": {
    "x": {"field": "e", "type": "quantitative", "scale": {"domain": [-20, 8], "nice": false, "zero": false}, "axis": {"values": [-20,-16,-12,-8,-4,0,4,8], "title": "Energy (eV)", "labelExpr": "replace(datum.label, '−', '-')"}},
    "y": {"field": "v", "type": "quantitative", "stack": null, "scale": {"domain": [0, 6.25], "nice": false, "zero": false}, "axis": {"labels": false, "ticks": false, "title": "PDOS (a. u.)", "titlePadding": 10, "titleFontSize": 16}}
  },
  "layer": [
    {"data": {"name": "bS"}, "mark": {"type": "area", "interpolate": "monotone"}, "encoding": {"y2": {"field": "b"}, "color": {"field": "k", "type": "nominal", "scale": {"domain": ["s1","s2","s3","s4"], "range": ["#f03ce6","#e8207a","#1a1a80","#2a8dbf"]}, "legend": null}}},
    {"data": {"values": [{"e": -20, "e2": 8, "v": 5.13}, {"e": -20, "e2": 8, "v": 3.6}, {"e": -20, "e2": 8, "v": 1.83}]}, "mark": {"type": "rule", "color": "#333", "strokeWidth": 1.5}, "encoding": {"x2": {"field": "e2"}}},
    {"data": {"values": [{"e": 0, "v": 0, "v2": 6.25}]}, "mark": {"type": "rule", "color": "#000", "strokeWidth": 2, "strokeDash": [4, 3]}, "encoding": {"y2": {"field": "v2"}}},
    {"data": {"values": [{"k":"s1","e":-19.75,"v":5.83,"t":"H₂Pr-TPA-COF"},{"k":"s2","e":-19.75,"v":4.55,"t":"NiPr-TPA-COF"},{"k":"s3","e":-19.75,"v":3.05,"t":"H₂Pr-TPA-COF"},{"k":"s4","e":-19.75,"v":1.3,"t":"NiPr-TPA-COF"}]}, "mark": {"type": "text", "align": "left", "fontSize": 14}, "encoding": {"text": {"field": "t"}, "color": {"field": "k", "type": "nominal", "scale": {"domain": ["s1","s2","s3","s4"], "range": ["#f03ce6","#e8207a","#1a1a80","#2a8dbf"]}, "legend": null}}},
    {"data": {"values": [{"e":7.3,"v":5.83,"t":"N-CN₂"},{"e":7.3,"v":4.55,"t":"N-CN₂"},{"e":7.3,"v":3.05,"t":"N-CN₃"},{"e":7.3,"v":1.3,"t":"N-CN₃"}]}, "mark": {"type": "text", "align": "right", "fontSize": 14, "color": "#111"}, "encoding": {"text": {"field": "t"}}},
    {"data": {"values": [{"e": 0.25, "v": 5.88}]}, "layer": [
      {"mark": {"type": "text", "text": "E", "align": "left", "baseline": "middle", "fontSize": 14, "color": "#000"}},
      {"mark": {"type": "text", "text": "F", "align": "left", "baseline": "middle", "fontSize": 9, "dx": 10, "dy": 4, "color": "#000"}}
    ]}
  ]
},
{
  "width": 286, "height": 208,
  "title": {"text": "c", "dx": -31, "offset": -19},
  "encoding": {
    "x": {"field": "e", "type": "quantitative", "scale": {"domain": [-20, 8], "nice": false, "zero": false}, "axis": {"values": [-20,-16,-12,-8,-4,0,4,8], "title": "Energy (eV)", "labelExpr": "replace(datum.label, '−', '-')"}},
    "y": {"field": "v", "type": "quantitative", "stack": null, "scale": {"domain": [0, 6.28], "nice": false, "zero": false}, "axis": {"labels": false, "ticks": false, "title": "PDOS (a. u.)", "titlePadding": 10, "titleFontSize": 16}}
  },
  "layer": [
    {"data": {"name": "cS"}, "mark": {"type": "area", "interpolate": "monotone"}, "encoding": {"y2": {"field": "b"}, "color": {"field": "k", "type": "nominal", "scale": {"domain": ["c1","c2","c3","c4","c5"], "range": ["#3dc23d","#268a26","#1f1fdd","#9b3de0","#161650"]}, "legend": null}}},
    {"data": {"values": [{"e": -20, "e2": 8, "v": 4.9}, {"e": -20, "e2": 8, "v": 3.48}, {"e": -20, "e2": 8, "v": 2.3}, {"e": -20, "e2": 8, "v": 1.15}]}, "mark": {"type": "rule", "color": "#333", "strokeWidth": 1.5}, "encoding": {"x2": {"field": "e2"}}},
    {"data": {"values": [{"e": 0, "v": 0, "v2": 6.28}]}, "mark": {"type": "rule", "color": "#000", "strokeWidth": 2, "strokeDash": [4, 3]}, "encoding": {"y2": {"field": "v2"}}},
    {"data": {"values": [{"e": -1.85, "v": 6.28}, {"e": 0.11, "v": 0}]}, "mark": {"type": "line", "color": "#c0504d", "strokeWidth": 1.8, "strokeDash": [5, 3]}},
    {"data": {"values": [{"k":"c1","e":-19.35,"v":5.8,"t":"C-CN₃-Benzene"},{"k":"c2","e":-19.35,"v":4.42,"t":"C-CN₃-Benzene-N"},{"k":"c3","e":-19.35,"v":3.0,"t":"C-CN₃-Benzene-C"},{"k":"c4","e":-19.35,"v":1.9,"t":"C-CN₃-Pyrrole"},{"k":"c5","e":-19.35,"v":0.7,"t":"C-CN₃-Connect"}]}, "mark": {"type": "text", "align": "left", "fontSize": 14}, "encoding": {"text": {"field": "t"}, "color": {"field": "k", "type": "nominal", "scale": {"domain": ["c1","c2","c3","c4","c5"], "range": ["#3dc23d","#268a26","#1f1fdd","#9b3de0","#161650"]}, "legend": null}}},
    {"data": {"values": [{"e": 0.3, "v": 5.85}]}, "layer": [
      {"mark": {"type": "text", "text": "E", "align": "left", "baseline": "middle", "fontSize": 14, "color": "#000"}},
      {"mark": {"type": "text", "text": "F", "align": "left", "baseline": "middle", "fontSize": 9, "dx": 10, "dy": 4, "color": "#000"}}
    ]}
  ]
}
],
"spacing": 82,
"bounds": "flush",
"resolve": {"scale": {"color": "independent"}, "legend": {"color": "independent"}}
},
{
"hconcat": [
{
  "width": 285, "height": 209,
  "title": {"text": "d", "dx": -37, "offset": -18},
  "encoding": {
    "x": {"field": "e", "type": "quantitative", "scale": {"domain": [-10, 8], "nice": false, "zero": false}, "axis": {"values": [-10,-8,-6,-4,-2,0,2,4,6,8], "title": "Energy (eV)", "labelFontSize": 16, "labelExpr": "replace(datum.label, '−', '-')"}},
    "y": {"field": "v", "type": "quantitative", "scale": {"domain": [0, 11.95], "nice": false, "zero": false}, "axis": {"values": [0,2,4,6,8,10], "title": "PDOS (electrons/eV)", "titleFontSize": 19, "labelFontSize": 16}}
  },
  "layer": [
    {"data": {"name": "dAds"}, "mark": {"type": "area", "color": "#8fd14f", "stroke": "#6fb83a", "strokeWidth": 1, "interpolate": "monotone"}},
    {"data": {"name": "dFree"}, "mark": {"type": "area", "color": "#9b40ea", "stroke": "#8a30d8", "strokeWidth": 1, "interpolate": "monotone"}},
    {"data": {"name": "dNi"}, "mark": {"type": "area", "color": "#22228a", "opacity": 0.85, "interpolate": "monotone"}},
    {"data": {"values": [{"e": 0, "v": 0, "v2": 11.95}]}, "mark": {"type": "rule", "color": "#000", "strokeWidth": 2, "strokeDash": [4, 3]}, "encoding": {"y2": {"field": "v2"}}},
    {"data": {"values": [{"e": -4.68, "v": 9.75, "t": "free NO₃-2p"}]}, "mark": {"type": "text", "color": "#9b40ea", "fontSize": 15}, "encoding": {"text": {"field": "t"}}},
    {"data": {"values": [{"e": -6.0, "v": 7.6, "t": "adsorbed NO₃-2p"}]}, "mark": {"type": "text", "color": "#5cc23c", "fontSize": 15}, "encoding": {"text": {"field": "t"}}},
    {"data": {"values": [{"e": 0.37, "v": 4.17, "t": "Ni-3d"}]}, "mark": {"type": "text", "color": "#2a2a8a", "fontSize": 15, "align": "left"}, "encoding": {"text": {"field": "t"}}},
    {"data": {"values": [{"e": 0.2, "v": 11.0}]}, "layer": [
      {"mark": {"type": "text", "text": "E", "align": "left", "baseline": "middle", "fontSize": 14, "color": "#000"}},
      {"mark": {"type": "text", "text": "F", "align": "left", "baseline": "middle", "fontSize": 9, "dx": 10, "dy": 4, "color": "#000"}}
    ]}
  ]
},
{
  "width": 150, "height": 209,
  "title": {"text": "e", "dx": -31, "offset": -16},
  "layer": [
    {"data": {"name": "eBars"}, "mark": {"type": "bar"}, "encoding": {
      "x": {"field": "g", "type": "nominal", "scale": {"domain": ["NO3","H2O"], "paddingInner": 0.496, "paddingOuter": 0.508, "align": 0.587}, "axis": null},
      "xOffset": {"field": "s", "type": "nominal", "scale": {"domain": ["NiPr-TPA-COF","H₂Pr-TPA-COF"], "paddingInner": 0, "paddingOuter": 0}},
      "y": {"field": "v", "type": "quantitative", "scale": {"domain": [-0.35, 0.298], "nice": false}, "axis": {"values": [-0.2, 0, 0.2], "format": ".1f", "title": "Energy (eV)", "titleFontSize": 16, "labelExpr": "replace(datum.label, '−', '-')"}},
      "y2": {"datum": 0},
      "color": {"field": "s", "type": "nominal", "scale": {"domain": ["NiPr-TPA-COF","H₂Pr-TPA-COF"], "range": ["#2a8fd0","#ff8c1a"]}, "legend": {"title": null, "orient": "top-left", "offset": 8, "symbolType": "square", "symbolSize": 70, "labelFont": "Liberation Sans", "labelFontSize": 14, "labelFontWeight": "bold", "rowPadding": 3, "labelOffset": 4, "padding": 0, "labelColor": {"expr": "datum.label == 'NiPr-TPA-COF' ? '#2a8fd0' : '#ff8c1a'"}}}
    }},
    {"data": {"values": [{"v": 0}]}, "mark": {"type": "rule", "color": "#000", "strokeWidth": 1.5}, "encoding": {"y": {"field": "v", "type": "quantitative"}}},
    {"data": {"values": [{"g": "NO3", "v": -0.308, "t": "NO₃"}, {"g": "H2O", "v": -0.308, "t": "H₂O"}]}, "mark": {"type": "text", "fontSize": 14, "color": "#111"}, "encoding": {"x": {"field": "g", "type": "nominal"}, "y": {"field": "v", "type": "quantitative"}, "text": {"field": "t"}}}
  ]
},
{
  "width": 436, "height": 209,
  "title": {"text": "f", "dx": -38, "offset": -21},
  "encoding": {
    "x": {"field": "x1", "type": "quantitative", "scale": {"domain": [0, 13.08], "nice": false, "zero": false}, "axis": null},
    "y": {"field": "v", "type": "quantitative", "scale": {"domain": [-5, 1], "nice": false, "zero": false}, "axis": {"values": [-5,-4,-3,-2,-1,0,1], "title": "Energy (eV)", "titleFontSize": 19, "labelFontSize": 17, "labelExpr": "replace(datum.label, '−', '-')"}}
  },
  "layer": [
    {"data": {"name": "fLev"}, "mark": {"type": "rule", "strokeWidth": 3.5}, "encoding": {"x2": {"field": "x2"}, "color": {"field": "s", "type": "nominal", "scale": {"domain": ["NiPr-TPA-COF","H₂Pr-TPA-COF"], "range": ["#2a9fd8","#f5a43a"]}, "legend": {"title": null, "orient": "bottom-left", "offset": 10, "symbolType": "stroke", "symbolSize": 900, "symbolStrokeWidth": 3.5, "labelFont": "Liberation Sans", "labelFontSize": 15, "labelFontWeight": "bold", "rowPadding": 2, "labelOffset": 10, "padding": 0, "labelColor": {"expr": "datum.label == 'NiPr-TPA-COF' ? '#2a9fd8' : '#f5a43a'"}}}}},
    {"data": {"name": "fConn"}, "mark": {"type": "rule", "strokeWidth": 1.5, "strokeDash": [4, 3]}, "encoding": {"x2": {"field": "x2"}, "y2": {"field": "v2"}, "color": {"field": "s", "type": "nominal", "legend": null}}},
    {"data": {"values": [{"x1": 0.95, "x2": 13.08, "v": 0}]}, "mark": {"type": "rule", "color": "#000", "strokeWidth": 1.8, "strokeDash": [5, 4]}, "encoding": {"x2": {"field": "x2"}}},
    {"data": {"values": [{"x1": 10.85, "v": -1.95, "v2": -3.35}, {"x1": 10.85, "v": -4.2, "v2": -3.9}]}, "mark": {"type": "rule", "color": "#d9232d", "strokeWidth": 2}, "encoding": {"y2": {"field": "v2"}}},
    {"data": {"values": [{"x1": 10.85, "v": -1.96}, {"x1": 10.85, "v": -3.9}]}, "mark": {"type": "point", "shape": "triangle-up", "filled": true, "size": 45, "color": "#d9232d", "opacity": 1}},
    {"data": {"values": [{"x1": 10.85, "v": -3.31}]}, "mark": {"type": "point", "shape": "triangle-down", "filled": true, "size": 45, "color": "#d9232d", "opacity": 1}},
    {"data": {"values": [{"x1": 2.35, "v": -1.1, "t": "NO₂*"}, {"x1": 4.03, "v": -1.15, "t": "NO*"}, {"x1": 5.68, "v": -2.18, "t": "NHO*"}, {"x1": 7.45, "v": -3.07, "t": "NH₂O*"}, {"x1": 9.15, "v": -1.96, "t": "NH₂OH*"}, {"x1": 10.85, "v": -1.29, "t": "NH₂*"}]}, "mark": {"type": "text", "angle": 270, "fontSize": 14, "color": "#111", "align": "center", "baseline": "middle"}, "encoding": {"text": {"field": "t"}}},
    {"data": {"values": [{"x1": 0.15, "v": 0.4, "t": "NO₃"}, {"x1": 12.25, "v": -4.52, "t": "NH₃"}]}, "mark": {"type": "text", "fontSize": 14, "color": "#111", "align": "left", "baseline": "middle"}, "encoding": {"text": {"field": "t"}}},
    {"data": {"values": [{"x1": 11.0, "v": -2.34, "t": "1.01 eV"}]}, "mark": {"type": "text", "fontSize": 15, "color": "#d9232d", "align": "left", "baseline": "middle"}, "encoding": {"text": {"field": "t"}}},
    {"data": {"values": [{"x1": 10.98, "v": -4.57, "t": "0.28 eV"}]}, "mark": {"type": "text", "fontSize": 15, "color": "#d9232d", "align": "center", "baseline": "middle"}, "encoding": {"text": {"field": "t"}}}
  ]
}
],
"spacing": 74.5,
"bounds": "flush",
"resolve": {"scale": {"color": "independent"}, "legend": {"color": "independent"}}
}
]
}
